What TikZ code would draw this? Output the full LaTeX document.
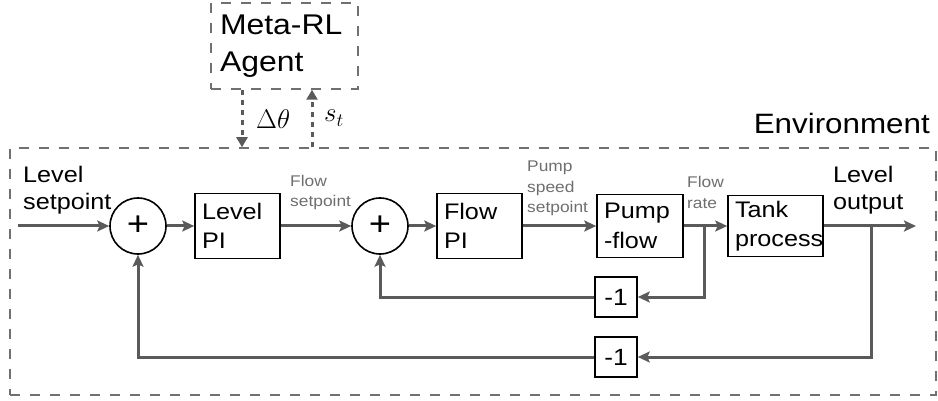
\RequirePackage{fix-cm}
\documentclass[tikz,border=0pt]{standalone}
\usepackage[no-math]{fontspec}
\setmainfont[FakeStretch=1.12]{Liberation Sans}
\usetikzlibrary{arrows.meta,calc}
\definecolor{wirec}{HTML}{5A5A5A}
\definecolor{lblc}{HTML}{6E6E6E}
\definecolor{dashc}{HTML}{707070}
\begin{document}
\begin{tikzpicture}[x=1pt,y=-1pt,
  wire/.style={draw=wirec,line width=3pt,-{Stealth[length=12pt,width=11pt,inset=2.5pt]}},
  blk/.style={draw=black,line width=1.6pt,rectangle,inner xsep=7pt,inner ysep=0pt,align=left,font=\fontsize{22.5}{29.5}\selectfont},
  negbox/.style={draw=black,line width=1.6pt,rectangle,inner sep=0pt,minimum width=42pt,minimum height=40pt,font=\fontsize{23.5}{23.5}\selectfont},
  sumnode/.style={draw=black,line width=1.6pt,circle,minimum size=56pt,inner sep=0pt,font=\fontsize{34}{34}\selectfont},
  dashbox/.style={draw=dashc,line width=1.5pt,dash pattern=on 10pt off 10pt,rectangle,inner sep=0pt},
  agentarrow/.style={draw=wirec,line width=3pt,dash pattern=on 5pt off 5pt,-{Triangle[length=10pt,width=11pt]}},
  sig/.style={align=left,font=\fontsize{22.5}{28}\selectfont,inner sep=0pt},
  small/.style={align=left,text=lblc,font=\fontsize{15.5}{20.5}\selectfont,inner sep=0pt}
]
\useasboundingbox (0,0) rectangle (938,401);

% agent and environment
\node[dashbox,minimum width=147pt,minimum height=86pt,inner xsep=9pt,text width=129pt,align=left,
      font=\fontsize{28.5}{37}\selectfont] (agent) at (284.5,46) {Meta-RL\\Agent};
\node[dashbox,minimum width=926pt,minimum height=247pt] (env) at (473,271.5) {};
\node[anchor=base east,inner sep=0pt,font=\fontsize{28}{28}\selectfont] (envlabel) at (930,134) {Environment};

\coordinate (dx) at (242,0);
\coordinate (sx) at (312,0);
\draw[agentarrow] (agent.south -| dx) -- (env.north -| dx);
\draw[agentarrow] (env.north -| sx) -- (agent.south -| sx);
\node[anchor=base west,inner sep=0pt,font=\fontsize{27}{27}\selectfont] (dtheta) at (256,129) {$\Delta\theta$};
\node[anchor=base west,inner sep=0pt,font=\fontsize{27}{27}\selectfont] (st) at (324,122) {$s_t$};

% blocks
\node[sumnode] (s1) at (138,226) {+};
\node[sumnode] (s2) at (380,226) {+};
\node[blk,text width=71pt,minimum height=65pt] (lpi) at (237.5,226) {Level\\PI};
\node[blk,text width=71pt,minimum height=65pt] (fpi) at (479.5,226) {Flow\\PI};
\node[blk,text width=72pt,minimum height=63pt] (pump) at (640,226) {Pump\\-flow};
\node[blk,text width=81pt,minimum height=61pt] (tank) at (775.5,226) {Tank\\process};
\node[negbox] (n1) at (616,297) {-1};
\node[negbox] (n2) at (616,357) {-1};

% signal labels (base anchor = baseline of last line)
\node[sig,anchor=base west] (lsp) at (23,210) {Level\\setpoint};
\node[sig,anchor=base west] (lout) at (833,210) {Level\\output};
\node[small,anchor=base west] (fsp) at (290,207) {Flow\\setpoint};
\node[small,anchor=base west] (psp) at (527,213) {Pump\\speed\\setpoint};
\node[small,anchor=base west] (frate) at (687,208) {Flow\\rate};

% connectors
\coordinate (in) at (18,226);
\coordinate (out) at (916,226);
\coordinate (b1) at (704,226);
\coordinate (b2) at (871,226);
\draw[wire] (in) -- (s1.west);
\draw[wire] (s1.east) -- (lpi.west);
\draw[wire] (lpi.east) -- (s2.west);
\draw[wire] (s2.east) -- (fpi.west);
\draw[wire] (fpi.east) -- (pump.west);
\draw[wire] (pump.east) -- (tank.west);
\draw[wire] (tank.east) -- (out);
\draw[wire] (b1) |- (n1.east);
\draw[wire] (n1.west) -| (s2.south);
\draw[wire] (b2) |- (n2.east);
\draw[wire] (n2.west) -| (s1.south);
\end{tikzpicture}
\end{document}
